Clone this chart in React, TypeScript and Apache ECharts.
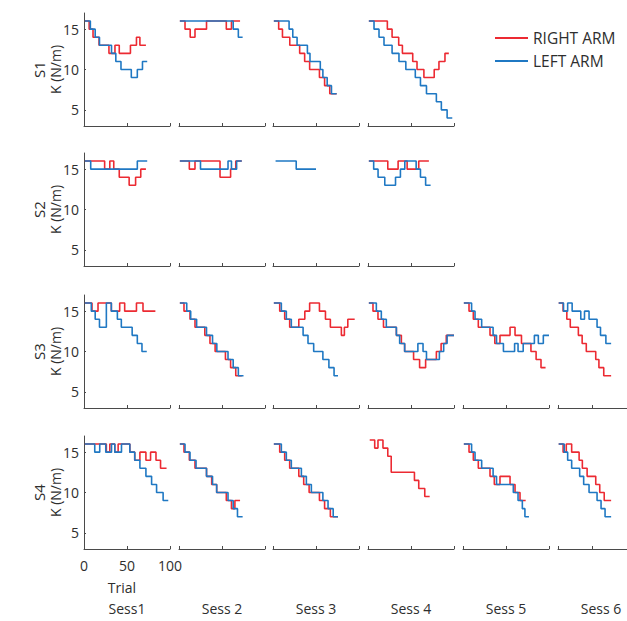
import React, { useEffect, useRef } from 'react';
import * as echarts from 'echarts';

type Pt = [number, number];
type Steps = Pt[] | null;

const SESSIONS = ['Sess1', 'Sess 2', 'Sess 3', 'Sess 4', 'Sess 5', 'Sess 6'];
const SUBJECTS = ['S1', 'S2', 'S3', 'S4'];
const Y_TICKS = [5, 10, 15];
const SERIES_NAMES = ['RIGHT ARM', 'LEFT ARM'];

// Each staircase: [trial, K] breakpoints; K holds until the next breakpoint; last point = final trial.
const S1_RIGHT: Steps[] = [
  [[1, 16], [6, 15], [10.5, 14], [17.5, 13], [29, 12], [36, 13], [41, 12], [54, 13], [61, 14], [65, 13], [72, 13]],
  [[1, 16], [7, 15], [13, 14], [18.6, 15], [32, 16], [55, 15], [61, 16], [71, 16]],
  [[1, 16], [6.6, 15], [11, 14], [19.5, 13], [31, 12], [36.8, 11], [42.6, 10], [54, 9], [60, 8], [66, 7], [74, 7]],
  [[1, 16], [22.5, 15], [28, 14], [35.7, 13], [40, 12], [52, 11], [57, 10], [65, 9], [77, 10], [82.5, 11], [89.5, 12], [94, 12]],
];
const S1_LEFT: Steps[] = [
  [[1, 16], [7.4, 15], [13, 14], [18, 13], [32, 12], [37, 11], [43, 10], [55, 9], [62, 10], [68, 11], [73.5, 11]],
  [[1, 16], [63, 15], [69, 14], [74, 14]],
  [[1, 16], [18.7, 15], [23, 14], [28, 13], [40, 12], [43, 11], [55, 10], [58, 9], [63, 8], [68, 7], [74, 7]],
  [[1, 16], [7, 15], [12.8, 14], [18.6, 13], [28, 12], [36, 11], [44, 10], [55, 9], [61, 8], [68, 7], [79.5, 6], [85.3, 5], [92, 4], [98, 4]],
];

const S2_RIGHT: Steps[] = [
  [[1, 16], [24, 15], [30, 16], [34.6, 15], [41, 14], [52.5, 13], [60, 14], [66, 15], [72, 15]],
  [[1, 16], [12, 15], [18.6, 16], [47.7, 14], [60, 15], [66, 16], [73, 16]],
  null,
  [[1, 16], [23, 15], [35, 16], [45.5, 15], [59, 16], [70.8, 16]],
];
const S2_LEFT: Steps[] = [
  [[1, 16], [7.8, 15], [62, 16], [73.5, 16]],
  [[1, 16], [25, 15], [57, 16], [61, 15], [67, 16], [73, 16]],
  [[3, 16], [27, 15], [50, 15]],
  [[1, 16], [6.6, 15], [11.7, 14], [19.5, 13], [32, 14], [37.7, 15], [42.8, 16], [56, 15], [61, 14], [67, 13], [72.8, 13]],
];

const S3_RIGHT: Steps[] = [
  [[1, 16], [9.3, 15], [16.3, 16], [31.8, 15], [41.5, 16], [47.3, 15], [61, 16], [68.6, 15], [83, 15]],
  [[1, 16], [5.8, 15], [12.8, 14], [18.6, 13], [30, 12], [36, 11], [42, 10], [54, 9], [60, 8], [66, 7], [73, 7]],
  [[1, 16], [7.8, 15], [13.6, 14], [19.4, 13], [30, 14], [37, 15], [42.6, 16], [54, 15], [61, 14], [66.7, 13], [79.5, 12], [83, 13], [87, 14], [95, 14]],
  [[1, 16], [5.8, 15], [11.6, 14], [18, 13], [33, 12], [38.8, 11], [42.6, 10], [53, 9], [60, 8], [67, 9], [79.5, 10], [85, 11], [91, 12], [100, 12]],
  [[1, 16], [7, 15], [12, 14], [17.8, 13], [31.4, 12], [37, 11], [43, 12], [54.7, 13], [60.5, 12], [68, 11], [79, 10], [85, 9], [90.7, 8], [96, 8]],
  [[1, 16], [7.4, 15], [12.8, 14], [17.8, 13], [29.5, 12], [35, 11], [41, 10], [54.7, 9], [59.3, 8], [66.3, 7], [77, 7]],
];
const S3_LEFT: Steps[] = [
  [[1, 16], [8.5, 15], [13, 14], [18, 13], [26, 16], [31.8, 15], [38.8, 14], [43.4, 13], [56, 12], [62, 11], [67.4, 10], [73, 10]],
  [[1, 16], [9, 15], [13.6, 14], [20.5, 13], [32, 12], [39, 11], [44, 10], [57, 9], [63, 8], [69, 7], [75, 7]],
  [[1, 16], [9.7, 15], [15.5, 14], [21.3, 13], [35, 12], [40.7, 11], [47.3, 10], [58, 9], [65, 8], [71, 7], [75.6, 7]],
  [[1, 16], [9.7, 15], [15.5, 14], [21.3, 13], [33, 12], [36.8, 11], [42.6, 10], [58, 11], [64, 10], [68, 9], [83, 10], [88, 11], [92, 12], [100, 12]],
  [[1, 16], [10, 15], [14, 14], [21.7, 13], [35, 12], [39, 11], [47, 10], [60, 11], [64, 10], [70, 11], [83, 12], [87.6, 11], [93.4, 12], [100, 12]],
  [[1, 16], [8, 15], [14, 16], [20.5, 15], [33, 14], [38.4, 15], [45, 14], [56.6, 13], [61.6, 12], [69.4, 11], [77, 11]],
];

const S4_RIGHT: Steps[] = [
  [[1, 16], [26, 15], [30, 16], [35.8, 15], [39.7, 16], [53.3, 15], [59, 14], [65, 15], [72, 14], [77.4, 15], [83.7, 14], [89, 13], [96, 13]],
  [[1, 16], [5.8, 15], [12, 14], [18.6, 13], [32, 12], [38, 11], [43.8, 10], [55, 9], [61, 8], [65, 9], [71, 9]],
  [[1, 16], [7.8, 15], [13.6, 14], [19.4, 13], [30, 12], [35.7, 11], [42, 10], [54, 9], [60, 8], [66.7, 7], [75.6, 7]],
  [[2, 16.5], [7.8, 15.5], [11.6, 16.5], [17.4, 15.5], [23, 14.5], [27, 12.5], [54, 11.5], [59, 10.5], [66, 9.5], [71.7, 9.5]],
  [[1, 16], [7, 15], [12, 14], [17.8, 13], [31.4, 12], [36.4, 11], [43, 12], [54.7, 11], [60.5, 10], [66.3, 9], [72.9, 9]],
  [[1, 16], [7.4, 15], [12, 16], [19.8, 15], [30.6, 14], [35.3, 13], [42.2, 12], [54.7, 11], [60.5, 10], [67, 9], [77, 9]],
];
const S4_LEFT: Steps[] = [
  [[1, 16], [12.5, 15], [18.3, 16], [25.3, 15], [32, 16], [35.8, 15], [43.6, 16], [53.3, 15], [59, 14], [65, 13], [72, 12], [78.6, 11], [84.4, 10], [92, 9], [98, 9]],
  [[1, 16], [7, 15], [12.8, 14], [19.8, 13], [32, 12], [39, 11], [43.8, 10], [57, 9], [63, 8], [68, 7], [74, 7]],
  [[1, 16], [9.7, 15], [15.5, 14], [21.3, 13], [33, 12], [38.8, 11], [44.6, 10], [58, 9], [64, 8], [70, 7], [75.6, 7]],
  null,
  [[1, 16], [10, 15], [14, 14], [21.7, 13], [35, 12], [39, 11], [58.5, 10], [64, 9], [69, 8], [72, 7], [76.7, 7]],
  [[1, 16], [9, 15], [14, 14], [19.8, 13], [31.4, 12], [37.2, 11], [45, 10], [56.6, 9], [62.4, 8], [68.2, 7], [77, 7]],
];

const RIGHT_DATA = [S1_RIGHT, S2_RIGHT, S3_RIGHT, S4_RIGHT];
const LEFT_DATA = [S1_LEFT, S2_LEFT, S3_LEFT, S4_LEFT];

const RED = '#ec2a32';
const BLUE = '#1f78c3';
const AXIS = '#4a4a4a';
const TEXT = '#2e2e2e';
const FONT = 'Open Sans, sans-serif';

export default function App() {
  const ref = useRef<HTMLDivElement>(null);
  useEffect(() => {
    const chart = echarts.init(ref.current!, null, { renderer: 'svg' });
    const colLeft = [84, 179, 273, 368, 463, 558];
    const rowTop = [13, 153, 295, 436];
    const W = 86;
    const H = 113;
    const grids: any[] = [];
    const xAxes: any[] = [];
    const yAxes: any[] = [];
    const series: any[] = [];
    const graphics: any[] = [];

    RIGHT_DATA.forEach((rowRight, r) => {
      const rowLeft = LEFT_DATA[r];
      rowRight.forEach((rData, c) => {
        const lData = rowLeft[c];
        const idx = grids.length;
        const bottomLeft = r === 3 && c === 0;
        grids.push({ left: colLeft[c], top: rowTop[r], width: W, height: H });
        xAxes.push({
          gridIndex: idx,
          type: 'value',
          min: 0,
          max: 100,
          interval: 50,
          axisLine: { show: true, onZero: false, lineStyle: { color: AXIS, width: 1 } },
          axisTick: { show: true, inside: true, length: 3, lineStyle: { color: AXIS } },
          axisLabel: { show: bottomLeft, color: TEXT, fontSize: 14, fontFamily: FONT, margin: 9 },
          splitLine: { show: false },
          name: bottomLeft ? 'Trial' : '',
          nameLocation: 'middle',
          nameGap: 31,
          nameTextStyle: { color: TEXT, fontSize: 14, fontFamily: FONT, padding: [0, 10, 0, 0] },
        });
        yAxes.push({
          gridIndex: idx,
          type: 'value',
          min: 3,
          max: 17,
          show: c === 0,
          axisLine: { show: true, onZero: false, lineStyle: { color: AXIS, width: 1 } },
          axisTick: { show: true, inside: true, length: 2, customValues: Y_TICKS, lineStyle: { color: AXIS } },
          axisLabel: { show: true, customValues: Y_TICKS, color: TEXT, fontSize: 14, fontFamily: FONT, margin: 5 },
          splitLine: { show: false },
        });
        const common = {
          type: 'line',
          xAxisIndex: idx,
          yAxisIndex: idx,
          step: 'end',
          showSymbol: false,
          symbol: 'none',
          silent: true,
        };
        if (rData) {
          series.push({ ...common, name: SERIES_NAMES[0], data: rData, color: RED, lineStyle: { color: RED, width: 1.6 } });
        }
        if (lData) {
          series.push({ ...common, name: SERIES_NAMES[1], data: lData, color: BLUE, lineStyle: { color: BLUE, width: 1.6 } });
        }
      });
      const cy = rowTop[r] + H / 2;
      graphics.push({
        type: 'text', x: 39, y: cy, rotation: Math.PI / 2,
        style: { text: SUBJECTS[r], fill: TEXT, font: `15px ${FONT}`, align: 'center', verticalAlign: 'middle' },
      });
      graphics.push({
        type: 'text', x: 55, y: cy, rotation: Math.PI / 2,
        style: { text: 'K (N/m)', fill: TEXT, font: `14px ${FONT}`, align: 'center', verticalAlign: 'middle' },
      });
    });

    SESSIONS.forEach((s, c) => {
      graphics.push({
        type: 'text', x: colLeft[c] + W / 2, y: 608,
        style: { text: s, fill: TEXT, font: `14px ${FONT}`, align: 'center', verticalAlign: 'middle' },
      });
    });

    chart.setOption({
      animation: false,
      grid: grids,
      xAxis: xAxes,
      yAxis: yAxes,
      series,
      graphic: graphics,
      legend: {
        data: SERIES_NAMES,
        orient: 'vertical',
        left: 489,
        top: 25,
        itemWidth: 33,
        itemHeight: 14,
        itemGap: 7,
        itemStyle: { opacity: 0 },
        textStyle: { color: TEXT, fontSize: 15.5, fontFamily: FONT },
      },
    });
    return () => chart.dispose();
  }, []);
  return <div ref={ref} style={{ position: 'absolute', left: 0, top: 0, width: 627, height: 621 }} />;
}
